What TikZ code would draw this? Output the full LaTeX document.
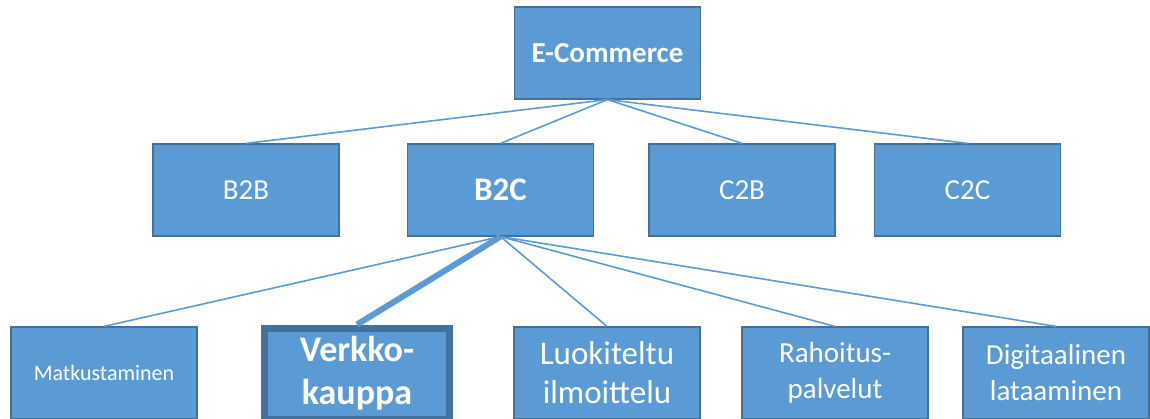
\documentclass[tikz,border=0pt]{standalone}
\usepackage{fontspec}
\setmainfont{Carlito}
\definecolor{boxblue}{HTML}{5B9BD5}
\definecolor{edgeblue}{HTML}{41719C}

\begin{document}
\begin{tikzpicture}[x=1pt, y=-1pt,
  box/.style={draw=edgeblue, line width=1.2pt, fill=boxblue, text=white,
    minimum width=186pt, minimum height=92pt, inner sep=0pt, align=center},
  link/.style={draw=boxblue, line width=1.6pt}]
\useasboundingbox (0,0) rectangle (1150,419);

\node[box, font=\fontsize{29}{34}\selectfont\bfseries] (ec) at (607.5,53) {E-Commerce};

\node[box, font=\fontsize{29}{34}\selectfont] (b2b) at (246,190) {B2B};
\node[box, font=\fontsize{33}{38}\selectfont\bfseries] (b2c) at (500.5,190) {B2C};
\node[box, font=\fontsize{29}{34}\selectfont] (c2b) at (742,190) {C2B};
\node[box, font=\fontsize{29}{34}\selectfont] (c2c) at (967.5,190) {C2C};

\node[box, font=\fontsize{22}{26}\selectfont] (matk) at (104,373) {Matkustaminen};
\node[box, line width=7pt, minimum width=185pt, minimum height=91pt,
  font=\fontsize{36}{43}\selectfont\bfseries] (verkko) at (357,373.5) {Verkko-\\kauppa};
\node[box, font=\fontsize{33}{39}\selectfont] (luok) at (607,373) {Luokiteltu\\ilmoittelu};
\node[box, font=\fontsize{29}{36}\selectfont] (rah) at (835,373) {Rahoitus-\\palvelut};
\node[box, font=\fontsize{29}{36}\selectfont] (dig) at (1056,373) {Digitaalinen\\lataaminen};

\foreach \c in {b2b,b2c,c2b,c2c}
{
   \draw[link] (ec.south)--(\c.north);
}
\foreach \c in {matk,luok,rah,dig}
{
   \draw[link] (b2c.south)--(\c.north);
}
\draw[link, line width=6pt] (b2c.south)--(verkko.north);
\end{tikzpicture}
\end{document}
